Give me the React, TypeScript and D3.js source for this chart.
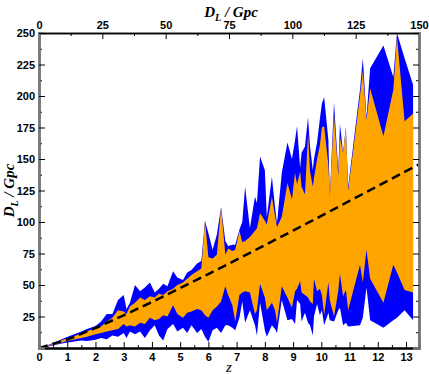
import React, { useRef, useEffect } from "react";
import * as d3 from "d3";

// redshift samples
const zVals = [
  0, 0.3, 0.6, 0.9, 1.2, 1.5, 1.7, 2.0, 2.2, 2.4, 2.6, 2.8, 3.0, 3.1, 3.22, 3.4,
  3.58, 3.75, 3.93, 4.1, 4.25, 4.4, 4.55, 4.75, 4.9, 5.1, 5.25, 5.4, 5.6, 5.75,
  5.88, 6.0, 6.15, 6.3, 6.45, 6.6, 6.7, 6.85, 6.95, 7.1, 7.2, 7.3, 7.47, 7.65,
  7.72, 7.83, 8.0, 8.07, 8.25, 8.36, 8.43, 8.6, 8.8, 8.96, 9.07, 9.14, 9.25, 9.3,
  9.42, 9.53, 9.6, 9.7, 9.74, 9.85, 9.95, 10.02, 10.1, 10.25, 10.3, 10.45, 10.6,
  10.66, 10.77, 10.87, 10.95, 11.37, 11.47, 11.6, 11.73, 12.2, 12.55, 12.68,
  12.95, 13.25,
];

// outer (blue) band
const blueLow = [
  0, 1, 2.5, 4, 5, 6, 5.5, 6.5, 8, 7, 10, 9, 12, 8, 13, 11,
  13, 8, 14, 18, 10, 6, 15, 19, 13, 16, 12, 18, 12, 15,
  9, 5, 14, 16, 12, 18, 18, 16, 14, 24, 37, 20, 30, 18,
  10, 36, 14, 9, 18, 15, 12, 38, 22, 23, 19, 38, 35, 21,
  28, 20, 18, 10, 25, 35, 26, 30, 18, 28, 22, 21, 30,
  32, 18, 20, 17, 18, 24, 48, 22, 16, 22, 24,
  30, 22,
];
const blueHigh = [
  0, 2.2, 4.8, 8, 10.5, 13, 15, 17.5, 21, 27, 27, 38, 42, 31, 36, 50,
  45, 48, 52, 44, 47, 51, 49, 61, 56, 54, 60, 62, 67, 69,
  101, 91, 78, 90, 112, 85, 81, 82, 82, 94, 100, 128, 95, 120,
  115, 152, 141, 104, 136, 112, 99, 139, 163, 150, 165, 176, 143, 155,
  160, 183, 160, 141, 150, 163, 182, 194, 199, 165, 120, 195, 140,
  178, 155, 175, 128, 205, 230, 183, 222, 240, 215, 250,
  230, 209,
];

// inner (orange) band
const orangeLow = [
  0, 1.3, 3, 5, 6.5, 8, 9, 11, 12, 13, 14, 15, 19, 17, 18, 17,
  20, 19, 24, 22, 23, 26, 25, 34, 27, 24, 28, 29, 31, 30,
  26, 24, 30, 33, 37, 49, 42, 34, 21, 42, 44, 45, 44, 27,
  30, 51, 40, 30, 36, 30, 20, 49, 40, 32, 45, 47, 53, 44,
  42, 40, 37, 35, 55, 45, 47, 42, 26, 52, 38, 25, 45,
  59, 41, 46, 30, 66, 52, 78, 55, 36, 66, 60,
  46, 44,
];
const orangeHigh = [
  0, 1.8, 4.2, 7, 9, 11.5, 13, 16, 17, 21, 24, 30, 29, 27, 33, 36,
  40, 38, 41, 40, 43, 42, 45, 47, 50, 52, 55, 58, 61, 63,
  101, 72, 71, 74, 112, 74, 79, 77, 78, 93, 84, 85, 88, 93,
  95, 107, 101, 98, 120, 105, 96, 104, 131, 118, 139, 130, 140, 128,
  122, 170, 140, 128, 135, 150, 161, 175, 176, 145, 120, 185, 137,
  167, 155, 175, 125, 200, 220, 181, 206, 168, 205, 247,
  180, 186,
];

// dashed mean relation
const meanZ = [0, 1, 2, 3, 4, 5, 6, 7, 8, 9, 10, 11, 12, 13, 13.45];
const meanDL = [0, 6.7, 15.8, 25.9, 36.5, 47.5, 58.7, 70.1, 81.6, 93.2, 104.9, 116.7, 128.5, 140.4, 145.5];

const zTicks = [0, 1, 2, 3, 4, 5, 6, 7, 8, 9, 10, 11, 12, 13];
const dlTicks = [25, 50, 75, 100, 125, 150, 175, 200, 225, 250];
const topTicks = [0, 25, 50, 75, 100, 125, 150];

const App = () => {
  const svgRef = useRef(null);

  useEffect(() => {
    const svg = d3.select(svgRef.current);
    svg.selectAll("*").remove();

    const width = 429;
    const height = 374;
    const margin = { top: 33, right: 10, bottom: 26, left: 39 };
    const x0 = margin.left;
    const x1 = width - margin.right;
    const y0 = height - margin.bottom;
    const y1 = margin.top;

    const x = d3.scaleLinear().domain([0, 13.46]).range([x0, x1]);
    const y = d3.scaleLinear().domain([0, 250]).range([y0, y1]);
    const xTop = d3.scaleLinear().domain([0, 150]).range([x0, x1]);

    const rows = zVals.map((z, i) => ({
      z,
      bl: blueLow[i],
      bh: blueHigh[i],
      ol: orangeLow[i],
      oh: orangeHigh[i],
    }));

    svg
      .append("defs")
      .append("clipPath")
      .attr("id", "plot-clip")
      .append("rect")
      .attr("x", x0)
      .attr("y", y1)
      .attr("width", x1 - x0)
      .attr("height", y0 - y1);

    const plot = svg.append("g").attr("clip-path", "url(#plot-clip)");

    const blueArea = d3
      .area()
      .x((d) => x(d.z))
      .y0((d) => y(d.bl))
      .y1((d) => y(d.bh));
    const orangeArea = d3
      .area()
      .x((d) => x(d.z))
      .y0((d) => y(d.ol))
      .y1((d) => y(d.oh));

    plot.append("path").datum(rows).attr("d", blueArea).attr("fill", "#0000ff");
    plot.append("path").datum(rows).attr("d", orangeArea).attr("fill", "#ffa500");

    const meanLine = d3
      .line()
      .x((d) => x(d[0]))
      .y((d) => y(d[1]));
    plot
      .append("path")
      .datum(meanZ.map((z, i) => [z, meanDL[i]]))
      .attr("d", meanLine)
      .attr("fill", "none")
      .attr("stroke", "#000")
      .attr("stroke-width", 2.5)
      .attr("stroke-dasharray", "9,5");

    // axes: ticks point inward
    const bottom = d3
      .axisBottom(x)
      .tickValues(zTicks)
      .tickSize(-6)
      .tickPadding(5)
      .tickFormat(d3.format("d"));
    const bottomMinor = d3
      .axisBottom(x)
      .tickValues(d3.range(0.5, 13.5, 1))
      .tickSize(-3)
      .tickFormat(() => "");
    const left = d3.axisLeft(y).tickValues(dlTicks).tickSize(-6).tickPadding(4);
    const leftMinor = d3
      .axisLeft(y)
      .tickValues(d3.range(12.5, 250, 25))
      .tickSize(-3)
      .tickFormat(() => "");
    const right = d3.axisRight(y).tickValues(dlTicks).tickSize(-6).tickFormat(() => "");
    const rightMinor = d3
      .axisRight(y)
      .tickValues(d3.range(12.5, 250, 25))
      .tickSize(-3)
      .tickFormat(() => "");
    const top = d3.axisTop(xTop).tickValues(topTicks).tickSize(-6).tickPadding(4);
    const topMinor = d3
      .axisTop(xTop)
      .tickValues(d3.range(12.5, 150, 25))
      .tickSize(-3)
      .tickFormat(() => "");

    const styleAxis = (g, color, w) => {
      g.select(".domain").attr("stroke", color).attr("stroke-width", w);
      g.selectAll(".tick line").attr("stroke", "#000").attr("stroke-width", 1);
      g.selectAll("text")
        .attr("fill", "#000")
        .style("font-family", "'Liberation Sans', Arial, sans-serif")
        .style("font-weight", "bold")
        .style("font-size", "11px");
    };

    svg.append("g").attr("transform", `translate(0,${y0})`).call(bottomMinor).call((g) => styleAxis(g, "#000", 2));
    svg.append("g").attr("transform", `translate(0,${y0})`).call(bottom).call((g) => styleAxis(g, "#000", 2));
    svg.append("g").attr("transform", `translate(0,${y1})`).call(topMinor).call((g) => styleAxis(g, "#000", 1.5));
    svg.append("g").attr("transform", `translate(0,${y1})`).call(top).call((g) => styleAxis(g, "#000", 1.5));
    svg.append("g").attr("transform", `translate(${x0},0)`).call(leftMinor).call((g) => styleAxis(g, "#777", 2.5));
    svg.append("g").attr("transform", `translate(${x0},0)`).call(left).call((g) => styleAxis(g, "#777", 2.5));
    svg.append("g").attr("transform", `translate(${x1},0)`).call(rightMinor).call((g) => styleAxis(g, "#777", 2.5));
    svg.append("g").attr("transform", `translate(${x1},0)`).call(right).call((g) => styleAxis(g, "#777", 2.5));

    // labels
    const serif = "'Liberation Serif', 'Times New Roman', serif";
    const addDL = (sel) => {
      sel.append("tspan").text("D");
      sel.append("tspan").attr("dy", 4).attr("font-size", "10px").text("L");
      sel.append("tspan").attr("dy", -4).text(" / Gpc");
    };

    svg
      .append("text")
      .attr("x", (x0 + x1) / 2 + 2)
      .attr("y", 17)
      .attr("text-anchor", "middle")
      .style("font-family", serif)
      .style("font-style", "italic")
      .style("font-weight", "bold")
      .style("font-size", "15px")
      .call(addDL);

    svg
      .append("text")
      .attr("transform", `translate(14, ${(y0 + y1) / 2}) rotate(-90)`)
      .attr("text-anchor", "middle")
      .style("font-family", serif)
      .style("font-style", "italic")
      .style("font-weight", "bold")
      .style("font-size", "15px")
      .call(addDL);

    svg
      .append("text")
      .attr("x", (x0 + x1) / 2)
      .attr("y", 372)
      .attr("text-anchor", "middle")
      .style("font-family", serif)
      .style("font-style", "italic")
      .style("font-size", "15px")
      .text("z");
  }, []);

  return (
    <svg
      ref={svgRef}
      width={429}
      height={374}
      style={{ position: "absolute", left: 0, top: 0, background: "#fff" }}
    />
  );
};

export default App;
